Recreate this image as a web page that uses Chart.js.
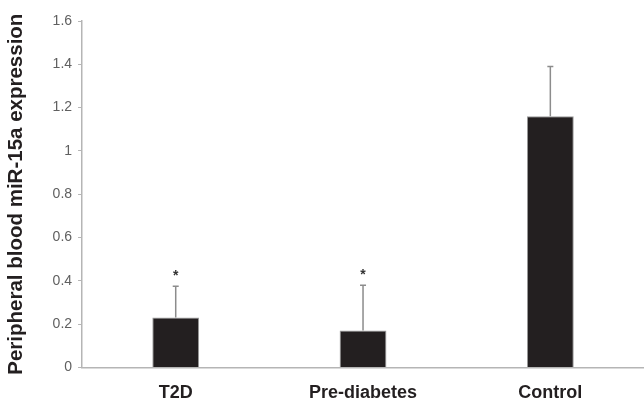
<!DOCTYPE html>
<html>
<head>
<meta charset="utf-8">
<script src="https://cdn.jsdelivr.net/npm/chart.js@4/dist/chart.umd.min.js"></script>
<style>
  html, body { margin: 0; padding: 0; background: #fff; }
  #wrap { width: 644px; height: 405px; }
</style>
</head>
<body>
<div id="wrap"><canvas id="barChart"></canvas></div>
<script>
const groups = ['T2D', 'Pre-diabetes', 'Control'];
const meanExpression = [0.23, 0.17, 1.16];
const errorUp = [0.145, 0.21, 0.23];
const significant = [true, true, false];
const yTicks = [0, 0.2, 0.4, 0.6, 0.8, 1, 1.2, 1.4, 1.6];

// upper error bars and the * marks
const errorBars = {
    id: 'errorBars',
    afterDatasetsDraw(chart) {
        const ctx = chart.ctx;
        const meta = chart.getDatasetMeta(0);
        const yScale = chart.scales.y;
        ctx.save();
        meta.data.forEach(function(bar, i) {
            const x = bar.x;
            const yTop = yScale.getPixelForValue(meanExpression[i] + errorUp[i]);
            ctx.strokeStyle = '#8c8c8c';
            ctx.lineWidth = 1.5;
            ctx.beginPath();
            ctx.moveTo(x, bar.y);
            ctx.lineTo(x, yTop);
            ctx.moveTo(x - 3, yTop);
            ctx.lineTo(x + 3, yTop);
            ctx.stroke();
            if (significant[i]) {
                ctx.fillStyle = '#333';
                ctx.font = 'bold 14px "Liberation Sans", Arial, sans-serif';
                ctx.textAlign = 'center';
                ctx.textBaseline = 'middle';
                ctx.fillText('*', x, yTop - 10);
            }
        });
        ctx.restore();
    }
};

const ctx = document.getElementById('barChart').getContext('2d');
new Chart(ctx, {
    type: 'bar',
    data: {
        labels: groups,
        datasets: [{
            data: meanExpression,
            backgroundColor: '#231f20',
            borderColor: '#9a9a9a',
            borderWidth: 1,
            barPercentage: 0.25,
            categoryPercentage: 1
        }]
    },
    options: {
        responsive: true,
        maintainAspectRatio: false,
        animation: false,
        layout: { padding: { top: 21, right: 0, bottom: 0, left: 4 } },
        plugins: {
            legend: { display: false },
            tooltip: { enabled: false }
        },
        scales: {
            x: {
                grid: { display: false, tickLength: 14 },
                border: { display: true, color: '#b5b5b5', width: 1.5 },
                ticks: {
                    color: '#231f20',
                    padding: 1,
                    font: { family: '"Liberation Sans", Arial, sans-serif', size: 18, weight: 'bold' }
                }
            },
            y: {
                min: 0,
                max: 1.6,
                afterBuildTicks: function(axis) {
                    axis.ticks = yTicks.map(v => ({ value: v }));
                },
                grid: { display: true, drawOnChartArea: false, drawTicks: true, tickLength: 4, color: '#b5b5b5' },
                border: { display: true, color: '#b5b5b5', width: 1.5 },
                ticks: {
                    color: '#606060',
                    padding: 6,
                    callback: v => String(v),
                    font: { family: '"Liberation Sans", Arial, sans-serif', size: 14 }
                },
                title: {
                    display: true,
                    text: 'Peripheral blood miR-15a expression',
                    color: '#231f20',
                    padding: { top: 0, bottom: 18 },
                    font: { family: '"Liberation Sans", Arial, sans-serif', size: 20.5, weight: 'bold' }
                }
            }
        }
    },
    plugins: [errorBars]
});
</script>
</body>
</html>
